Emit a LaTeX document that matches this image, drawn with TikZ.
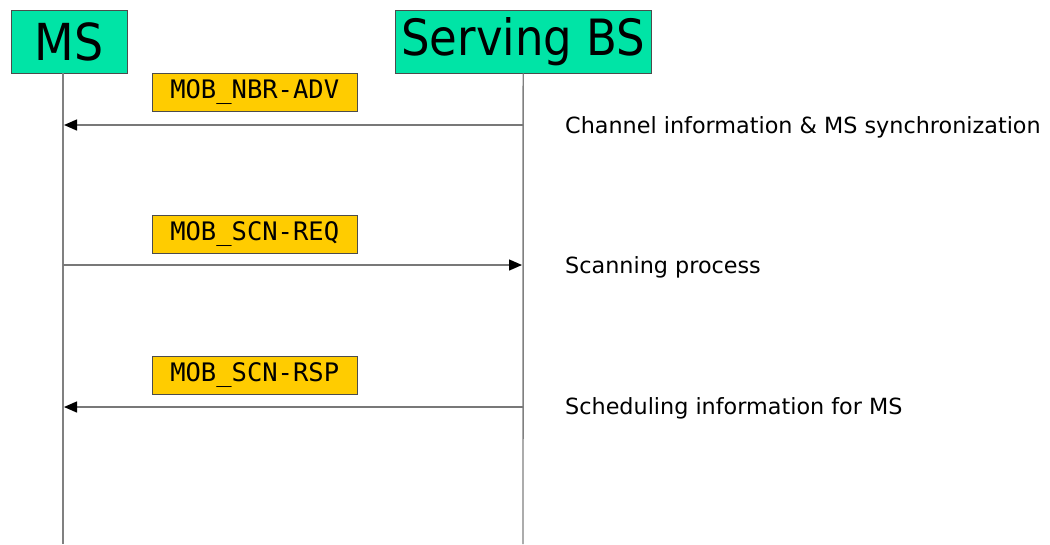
\documentclass[tikz,border=0pt]{standalone}
\usepackage{fontspec}
\setmainfont{DejaVu Sans}
\newfontfamily\condfont{DejaVu Sans Condensed}
\newfontfamily\monofont{DejaVu Sans Mono}
\usetikzlibrary{arrows.meta}
\definecolor{mint}{RGB}{0,228,166}
\definecolor{gold}{RGB}{255,204,0}
\definecolor{lifegray}{RGB}{128,128,128}
\definecolor{linegray}{RGB}{120,120,120}
\tikzset{
  entity/.style={draw=black!70, fill=mint, inner sep=0pt, anchor=north west},
  msgbox/.style={draw=black!70, fill=gold, inner sep=0pt, minimum width=205pt, minimum height=38pt, anchor=north west, font=\monofont\fontsize{25.5}{25.5}\selectfont},
  lifeline/.style={draw=lifegray, line width=1.4pt},
  msg/.style={draw=linegray, line width=1.4pt, -{Triangle[length=13pt,width=11pt,fill=black,color=black]}},
  note/.style={anchor=base west, font=\fontsize{22.3}{22.3}\selectfont, inner sep=0pt}
}
\begin{document}
\begin{tikzpicture}[x=1pt,y=-1pt]
\useasboundingbox (0,0) rectangle (1050,544);
\node[entity, minimum width=116pt, minimum height=63pt] (ms) at (11,10) {\condfont\fontsize{51}{51}\selectfont MS};
\node[entity, minimum width=256pt, minimum height=63pt] (bs) at (395,10) {\condfont\fontsize{50}{50}\selectfont Serving BS};
\coordinate (msend) at (63,544);
\coordinate (bsend) at (523,544);
\draw[lifeline] (ms.south -| msend) -- (msend);
\draw[lifeline] (bs.south) -- (bsend);
\coordinate (bs1) at (523,125); \coordinate (ms1) at (64,125);
\coordinate (ms2) at (63,265); \coordinate (bs2) at (522,265);
\coordinate (bs3) at (523,407); \coordinate (ms3) at (64,407);
\draw[msg] (bs1) -- (ms1);
\draw[msg] (ms2) -- (bs2);
\draw[msg] (bs3) -- (ms3);
\node[msgbox] (m1) at (152,73) {MOB\_NBR-ADV};
\node[msgbox] (m2) at (152,215) {MOB\_SCN-REQ};
\node[msgbox] (m3) at (152,356) {MOB\_SCN-RSP};
\node[note] (n1) at (565,133) {Channel information \& MS synchronization};
\node[note] (n2) at (565,273) {Scanning process};
\node[note] (n3) at (565,414) {Scheduling information for MS};
\end{tikzpicture}
\end{document}
